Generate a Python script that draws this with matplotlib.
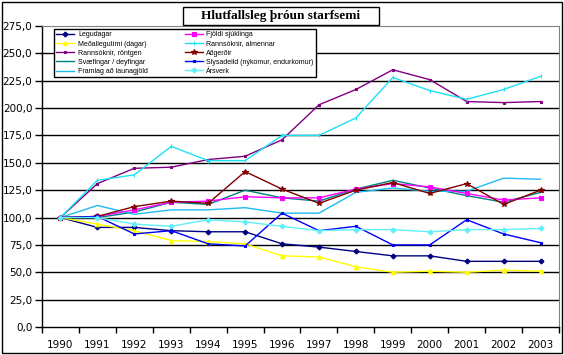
import matplotlib
matplotlib.use('Agg')
import matplotlib.pyplot as plt
import matplotlib.patches as mpatches
from matplotlib.ticker import FixedLocator, FuncFormatter

# Years on the category axis
years = ['1990', '1991', '1992', '1993', '1994', '1995', '1996',
         '1997', '1998', '1999', '2000', '2001', '2002', '2003']

# Series values (index, 1990 = 100)
legudagar = [100, 91, 91, 88, 87, 87, 76, 73, 69, 65, 65, 60, 60, 60]
medallegutimi = [100, 94, 88, 79, 78, 76, 65, 64, 55, 50, 51, 50, 52, 51]
rannsoknir_rontgen = [100, 131, 145, 146, 153, 156, 171, 203, 217, 235, 226, 206, 205, 206]
svaefingar = [100, 100, 105, 114, 112, 125, 118, 115, 126, 134, 127, 120, 114, 123]
launagjold = [100, 111, 103, 107, 107, 109, 104, 104, 123, 127, 124, 124, 136, 135]
fjoldi_sjuklinga = [100, 101, 107, 114, 115, 119, 118, 118, 126, 131, 128, 122, 116, 118]
rannsoknir_almennar = [100, 134, 139, 165, 152, 152, 175, 175, 191, 228, 216, 208, 217, 229]
adgerdir = [100, 101, 110, 115, 113, 142, 126, 113, 125, 132, 122, 131, 112, 125]
slysadeild = [100, 101, 85, 88, 76, 74, 104, 88, 92, 75, 75, 98, 85, 77]
arsverk = [100, 100, 94, 92, 98, 96, 92, 88, 89, 89, 87, 89, 89, 90]

labels = ['Legudagar', 'Meðallegutími (dagar)', 'Rannsóknir, röntgen',
          'Svæfingar / deyfingar', 'Framlag að launagjöld',
          'Fjöldi sjúklinga', 'Rannsóknir, almennar', 'Aðgerðir',
          'Slysadeild (nýkomur, endurkomur)', 'Ársverk']
series = [legudagar, medallegutimi, rannsoknir_rontgen, svaefingar, launagjold,
          fjoldi_sjuklinga, rannsoknir_almennar, adgerdir, slysadeild, arsverk]
colors = ['#000080', '#FFFF00', '#800080', '#008080', '#1EBBF0',
          '#FF00FF', '#1EE0F5', '#800000', '#0000FF', '#60F0F8']
markers = ['P', '^', 's', '_', '', 's', '|', '*', 's', 'P']
msizes = [3.2, 3.2, 1.8, 2.5, 0, 3.2, 2.5, 4, 2, 3.2]

W, H = 564, 355
fig = plt.figure(figsize=(W / 100, H / 100), dpi=100)
fig.patch.set_facecolor('white')

# plot area in pixel coordinates
left, right, top, bottom = 42, 559, 26, 327
ax = fig.add_axes([left / W, 1 - bottom / H, (right - left) / W, (bottom - top) / H])

x = list(range(len(years)))
for vals, lab, c, m, ms in zip(series, labels, colors, markers, msizes):
    ax.plot(x, vals, color=c, lw=1, marker=m, markersize=ms,
            markeredgewidth=0.8, label=lab)

ax.set_xlim(-0.5, len(years) - 0.5)
ax.set_ylim(0, 275)
ax.yaxis.set_major_locator(FixedLocator([i * 25 for i in range(12)]))
ax.yaxis.set_major_formatter(FuncFormatter(lambda v, p: ('%.1f' % v).replace('.', ',')))
for yv in range(25, 275, 25):
    ax.axhline(yv, color='black', lw=1, zorder=0)

ax.set_xticks(x)
ax.set_xticklabels(years)
ax.xaxis.set_minor_locator(FixedLocator([i - 0.5 for i in range(len(years) + 1)]))
ax.tick_params(axis='x', which='major', length=0, pad=9, labelsize=7.5)
ax.tick_params(axis='x', which='minor', length=4, direction='out', width=1)
ax.tick_params(axis='y', length=5, direction='out', width=1, labelsize=7.5, pad=2)

ax.spines['top'].set_color('#808080')
ax.spines['right'].set_color('#808080')
ax.spines['left'].set_linewidth(1)
ax.spines['bottom'].set_linewidth(1)

# legend box
lx0, lx1, ly0, ly1 = 54, 316, 29, 75
leg = ax.legend(loc='upper left', ncol=2, mode='expand',
                bbox_to_anchor=(lx0 / W, 1 - ly1 / H, (lx1 - lx0) / W, (ly1 - ly0) / H),
                bbox_transform=fig.transFigure,
                prop={'family': 'Liberation Sans', 'size': 5}, frameon=True,
                fancybox=False, borderpad=0.35, labelspacing=0.3,
                handlelength=2.6, handletextpad=0.5, borderaxespad=0)
leg.get_frame().set_edgecolor('black')
leg.get_frame().set_linewidth(1)
leg.get_frame().set_alpha(1)

# title box
tx0, tx1, ty0, ty1 = 183, 379, 7, 25
fig.patches.append(mpatches.Rectangle((tx0 / W, 1 - ty1 / H), (tx1 - tx0) / W, (ty1 - ty0) / H,
                                      transform=fig.transFigure, facecolor='white',
                                      edgecolor='black', lw=1))
fig.text((tx0 + tx1) / 2 / W, 1 - (ty0 + ty1) / 2 / H, 'Hlutfallsleg þróun starfsemi',
         ha='center', va='center', family='Liberation Serif', weight='bold', fontsize=9.5)

# outer chart border
fig.patches.append(mpatches.Rectangle((2 / W, 2 / H), (W - 4) / W, (H - 4) / H,
                                      transform=fig.transFigure, fill=False,
                                      edgecolor='black', lw=1))

fig.savefig('out.png', dpi=100)
